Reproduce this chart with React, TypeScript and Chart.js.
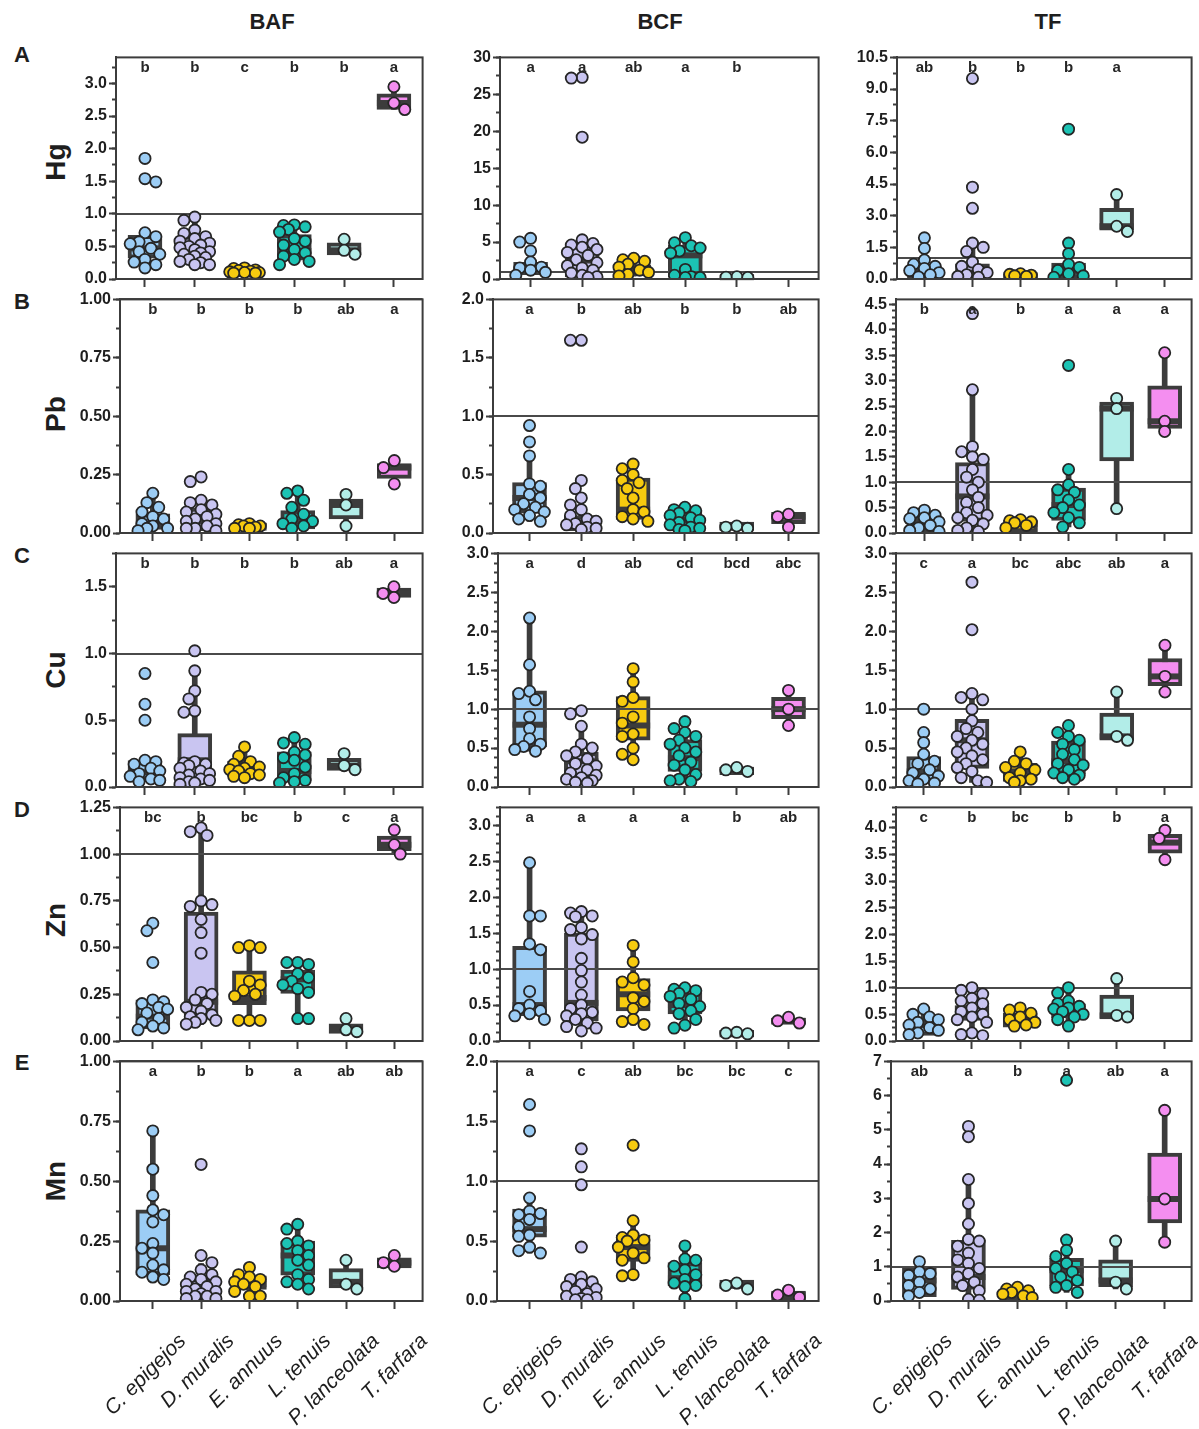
import React, { useEffect, useRef } from "react";
import { Chart, registerables } from "chart.js";

Chart.register(...registerables);

const FONT = "'Liberation Sans', Arial, Helvetica, sans-serif";
const DARK = "#3c3c3c";
const INK = "#262626";
Chart.defaults.font.family = FONT;

// ---------------- categories / labels ----------------
const species = ["C. epigejos", "D. muralis", "E. annuus", "L. tenuis", "P. lanceolata", "T. farfara"];
const speciesColors = ["#9ccdf5", "#c9c5f1", "#f7cb0f", "#1cc3b4", "#b2ede8", "#f48ef0"];
const factors = ["BAF", "BCF", "TF"];
const metals = ["Hg", "Pb", "Cu", "Zn", "Mn"];
const rowLetters = ["A", "B", "C", "D", "E"];

// y-axis ranges and tick spacing [row][col]
const yMaxes = [[3.4, 30, 10.5], [1.0, 2.0, 4.6], [1.75, 3.0, 3.0], [1.25, 3.25, 4.38], [1.0, 2.0, 7]];
const yMajorSteps = [[0.5, 5, 1.5], [0.25, 0.5, 0.5], [0.5, 0.5, 0.5], [0.25, 0.5, 0.5], [0.25, 0.5, 1]];
const yMinorSteps = [[0.25, 2.5, 0.75], [0.125, 0.25, 0.125], [0.25, 0.125, 0.125], [0.125, 0.125, 0.125], [0.125, 0.25, 0.5]];
const yDecimals = [[1, 0, 1], [2, 1, 1], [1, 1, 1], [2, 1, 1], [2, 1, 0]];

// ---------------- data: points per species, boxes [low, q1, median, q3, high] ----------------
// BAF
const bafHgPoints = [
  [1.85, 1.54, 1.49, 0.71, 0.65, 0.57, 0.54, 0.47, 0.42, 0.38, 0.30, 0.26, 0.22, 0.17],
  [0.95, 0.90, 0.75, 0.70, 0.65, 0.62, 0.58, 0.55, 0.52, 0.50, 0.48, 0.45, 0.42, 0.40, 0.38, 0.35, 0.33, 0.30, 0.27, 0.25, 0.22, 0.22],
  [0.17, 0.16, 0.14, 0.13, 0.12, 0.11, 0.10, 0.10, 0.09, 0.09],
  [0.83, 0.82, 0.80, 0.76, 0.72, 0.62, 0.58, 0.52, 0.45, 0.40, 0.35, 0.30, 0.27, 0.22],
  [0.61, 0.44, 0.38],
  [2.95, 2.70, 2.60],
];
const bafHgBoxes = [[0.17, 0.32, 0.47, 0.67, 0.71], [0.22, 0.32, 0.47, 0.66, 0.95], [0.09, 0.08, 0.12, 0.16, 0.17], [0.22, 0.29, 0.43, 0.68, 0.83], [0.38, 0.37, 0.44, 0.555, 0.61], [2.60, 2.60, 2.70, 2.84, 2.95]];
const bafHgLetters = ["b", "b", "c", "b", "b", "a"];

const bafPbPoints = [
  [0.17, 0.13, 0.11, 0.09, 0.07, 0.06, 0.04, 0.03, 0.02, 0.02, 0.01],
  [0.24, 0.22, 0.14, 0.13, 0.12, 0.10, 0.09, 0.08, 0.07, 0.06, 0.05, 0.04, 0.03, 0.02, 0.02, 0.01],
  [0.04, 0.035, 0.03, 0.03, 0.025, 0.02, 0.02],
  [0.18, 0.17, 0.14, 0.11, 0.08, 0.06, 0.05, 0.04, 0.03, 0.02],
  [0.165, 0.12, 0.03],
  [0.31, 0.28, 0.21],
];
const bafPbBoxes = [[0.01, 0.015, 0.04, 0.082, 0.17], [0.01, 0.014, 0.05, 0.107, 0.14], [0.02, 0.011, 0.03, 0.044, 0.04], [0.02, 0.017, 0.05, 0.096, 0.18], [0.03, 0.06, 0.12, 0.145, 0.165], [0.21, 0.234, 0.28, 0.297, 0.31]];
const bafPbLetters = ["b", "b", "b", "b", "ab", "a"];

const bafCuPoints = [
  [0.85, 0.62, 0.50, 0.20, 0.19, 0.17, 0.14, 0.12, 0.10, 0.08, 0.06, 0.05, 0.04],
  [1.02, 0.87, 0.72, 0.66, 0.57, 0.56, 0.19, 0.18, 0.17, 0.16, 0.14, 0.12, 0.10, 0.09, 0.07, 0.06, 0.05, 0.04, 0.03, 0.02],
  [0.30, 0.23, 0.19, 0.17, 0.15, 0.14, 0.13, 0.12, 0.10, 0.09, 0.08, 0.07],
  [0.37, 0.33, 0.32, 0.26, 0.24, 0.22, 0.20, 0.15, 0.10, 0.07, 0.05, 0.04, 0.03],
  [0.25, 0.16, 0.13],
  [1.50, 1.45, 1.42],
];
const bafCuBoxes = [[0.04, 0.049, 0.11, 0.197, 0.20], [0.02, 0.035, 0.20, 0.40, 0.87], [0.07, 0.079, 0.13, 0.195, 0.30], [0.03, 0.05, 0.12, 0.264, 0.37], [0.13, 0.124, 0.16, 0.215, 0.25], [1.42, 1.42, 1.45, 1.49, 1.50]];
const bafCuLetters = ["b", "b", "b", "b", "ab", "a"];

const bafZnPoints = [
  [0.63, 0.59, 0.42, 0.22, 0.21, 0.20, 0.18, 0.17, 0.15, 0.12, 0.10, 0.08, 0.07, 0.06],
  [1.14, 1.12, 1.10, 0.75, 0.73, 0.72, 0.65, 0.58, 0.47, 0.26, 0.25, 0.22, 0.20, 0.18, 0.16, 0.14, 0.13, 0.12, 0.11, 0.10, 0.09],
  [0.51, 0.50, 0.50, 0.32, 0.30, 0.27, 0.25, 0.24, 0.11, 0.11, 0.11],
  [0.42, 0.42, 0.41, 0.36, 0.34, 0.32, 0.30, 0.28, 0.26, 0.12, 0.12],
  [0.12, 0.06, 0.05],
  [1.13, 1.05, 1.00],
];
const bafZnBoxes = [[0.06, 0.065, 0.13, 0.22, 0.22], [0.09, 0.136, 0.21, 0.69, 1.14], [0.11, 0.194, 0.23, 0.375, 0.51], [0.12, 0.254, 0.33, 0.38, 0.42], [0.05, 0.04, 0.06, 0.092, 0.12], [1.00, 1.018, 1.05, 1.097, 1.13]];
const bafZnLetters = ["bc", "b", "bc", "b", "c", "a"];

const bafMnPoints = [
  [0.71, 0.55, 0.44, 0.38, 0.36, 0.33, 0.24, 0.22, 0.20, 0.15, 0.13, 0.12, 0.10, 0.09],
  [0.57, 0.19, 0.16, 0.13, 0.11, 0.10, 0.09, 0.08, 0.07, 0.06, 0.05, 0.04, 0.04, 0.03, 0.02, 0.02, 0.01, 0.01],
  [0.14, 0.11, 0.10, 0.09, 0.08, 0.07, 0.06, 0.04, 0.02, 0.02],
  [0.32, 0.30, 0.25, 0.24, 0.23, 0.21, 0.19, 0.17, 0.15, 0.11, 0.09, 0.08, 0.07, 0.05],
  [0.17, 0.07, 0.05],
  [0.19, 0.16, 0.145],
];
const bafMnBoxes = [[0.09, 0.11, 0.22, 0.38, 0.71], [0.01, 0.028, 0.05, 0.094, 0.156], [0.02, 0.048, 0.07, 0.105, 0.14], [0.05, 0.108, 0.19, 0.25, 0.32], [0.05, 0.055, 0.08, 0.135, 0.17], [0.145, 0.138, 0.16, 0.18, 0.19]];
const bafMnLetters = ["a", "b", "b", "a", "ab", "ab"];

// BCF
const bcfHgPoints = [
  [5.5, 5.0, 3.8, 2.3, 1.6, 1.5, 1.2, 0.9, 0.5],
  [27.3, 27.2, 19.2, 5.3, 4.8, 4.6, 4.3, 4.0, 3.6, 3.2, 2.6, 2.2, 1.8, 1.5, 1.2, 0.8, 0.5, 0.3, 0.2],
  [2.8, 2.6, 2.4, 2.0, 1.6, 1.2, 0.9, 0.6, 0.4],
  [5.6, 4.9, 4.5, 4.2, 3.8, 3.5, 1.3, 0.5, 0.3, 0.2, 0.2],
  [0.3, 0.25, 0.2],
  [],
];
const bcfHgBoxes = [[0.5, 0.58, 1.4, 2.27, 2.3], [0.2, 0.27, 2.5, 4.73, 5.3], [0.4, 0.45, 1.1, 1.92, 2.6], [0.2, 0.27, 3.2, 4.59, 5.6], [0.2, 0.12, 0.25, 0.48, 0.3], null];
const bcfHgLetters = ["a", "a", "ab", "a", "b", ""];

const bcfPbPoints = [
  [0.92, 0.78, 0.66, 0.42, 0.40, 0.33, 0.30, 0.25, 0.22, 0.20, 0.18, 0.15, 0.12, 0.10],
  [1.65, 1.65, 0.45, 0.38, 0.30, 0.24, 0.20, 0.15, 0.12, 0.10, 0.08, 0.07, 0.05, 0.04, 0.03],
  [0.59, 0.55, 0.50, 0.45, 0.43, 0.38, 0.30, 0.20, 0.18, 0.14, 0.12, 0.10],
  [0.22, 0.20, 0.19, 0.17, 0.15, 0.13, 0.11, 0.09, 0.07, 0.05, 0.04, 0.03, 0.02],
  [0.06, 0.05, 0.04],
  [0.16, 0.14, 0.05],
];
const bcfPbBoxes = [[0.10, 0.17, 0.30, 0.432, 0.645], [0.03, 0.02, 0.09, 0.15, 0.21], [0.10, 0.116, 0.20, 0.47, 0.57], [0.02, 0.02, 0.11, 0.19, 0.22], [0.04, 0.023, 0.05, 0.093, 0.06], [0.05, 0.08, 0.14, 0.178, 0.16]];
const bcfPbLetters = ["a", "b", "ab", "b", "b", "ab"];

const bcfCuPoints = [
  [2.17, 1.57, 1.23, 1.20, 1.12, 0.90, 0.75, 0.62, 0.55, 0.52, 0.48, 0.46],
  [0.98, 0.94, 0.78, 0.55, 0.50, 0.45, 0.40, 0.36, 0.30, 0.27, 0.22, 0.18, 0.15, 0.12, 0.10, 0.08, 0.06, 0.05],
  [1.52, 1.35, 1.15, 1.10, 0.90, 0.82, 0.68, 0.65, 0.50, 0.42, 0.35],
  [0.84, 0.75, 0.70, 0.65, 0.60, 0.55, 0.50, 0.45, 0.40, 0.32, 0.28, 0.22, 0.16, 0.10, 0.08, 0.07],
  [0.25, 0.22, 0.20],
  [1.24, 1.00, 0.79],
];
const bcfCuBoxes = [[0.46, 0.516, 0.80, 1.236, 2.17], [0.05, 0.114, 0.33, 0.444, 0.75], [0.35, 0.60, 0.79, 1.16, 1.52], [0.07, 0.20, 0.37, 0.61, 0.75], [0.20, 0.157, 0.22, 0.254, 0.25], [0.79, 0.876, 1.0, 1.15, 1.24]];
const bcfCuLetters = ["a", "d", "ab", "cd", "bcd", "abc"];

const bcfZnPoints = [
  [2.48, 1.74, 1.74, 1.35, 1.27, 0.69, 0.50, 0.45, 0.42, 0.38, 0.35, 0.30],
  [1.80, 1.78, 1.74, 1.73, 1.58, 1.55, 1.48, 1.42, 1.15, 0.98, 0.82, 0.64, 0.50, 0.45, 0.40, 0.38, 0.35, 0.30, 0.25, 0.20, 0.18, 0.14],
  [1.33, 1.10, 0.88, 0.82, 0.78, 0.60, 0.55, 0.45, 0.30, 0.27, 0.23],
  [0.74, 0.72, 0.70, 0.66, 0.62, 0.58, 0.52, 0.48, 0.42, 0.38, 0.30, 0.22, 0.18],
  [0.12, 0.11, 0.10],
  [0.33, 0.28, 0.25],
];
const bcfZnBoxes = [[0.30, 0.353, 0.50, 1.317, 2.48], [0.14, 0.284, 0.53, 1.50, 1.80], [0.22, 0.42, 0.65, 0.87, 1.33], [0.18, 0.376, 0.50, 0.675, 0.74], [0.10, 0.055, 0.11, 0.147, 0.12], [0.25, 0.23, 0.28, 0.32, 0.33]];
const bcfZnLetters = ["a", "a", "a", "a", "b", "ab"];

const bcfMnPoints = [
  [1.64, 1.42, 0.86, 0.75, 0.73, 0.72, 0.68, 0.62, 0.55, 0.54, 0.45, 0.42, 0.40],
  [1.27, 1.12, 0.97, 0.45, 0.20, 0.18, 0.16, 0.14, 0.12, 0.10, 0.08, 0.06, 0.04, 0.03, 0.02, 0.01, 0.01],
  [1.30, 0.67, 0.55, 0.53, 0.51, 0.50, 0.45, 0.40, 0.36, 0.34, 0.22, 0.21],
  [0.46, 0.35, 0.34, 0.29, 0.26, 0.22, 0.18, 0.15, 0.13, 0.12, 0.02],
  [0.15, 0.13, 0.10],
  [0.09, 0.05, 0.03],
];
const bcfMnBoxes = [[0.40, 0.532, 0.60, 0.767, 0.85], [0.01, 0.008, 0.06, 0.16, 0.20], [0.21, 0.33, 0.45, 0.55, 0.67], [0.02, 0.127, 0.19, 0.32, 0.46], [0.10, 0.105, 0.13, 0.174, 0.15], [0.03, 0.008, 0.05, 0.083, 0.09]];
const bcfMnLetters = ["a", "c", "ab", "bc", "bc", "c"];

// TF
const tfHgPoints = [
  [1.95, 1.45, 0.90, 0.70, 0.60, 0.50, 0.40, 0.30, 0.20, 0.10],
  [9.5, 4.35, 3.35, 1.70, 1.50, 1.30, 0.80, 0.60, 0.45, 0.30, 0.20, 0.12, 0.08],
  [0.25, 0.22, 0.18, 0.15, 0.12],
  [7.1, 1.70, 1.20, 0.70, 0.55, 0.40, 0.25, 0.15, 0.08],
  [4.0, 2.5, 2.25],
  [],
];
const tfHgBoxes = [[0.05, 0.05, 0.35, 0.62, 0.90], [0.08, 0.05, 0.30, 0.72, 1.50], [0.12, 0.05, 0.17, 0.23, 0.25], [0.08, 0.05, 0.35, 0.75, 1.20], [2.25, 2.31, 2.5, 3.35, 4.0], null];
const tfHgLetters = ["ab", "b", "b", "b", "a", ""];

const tfPbPoints = [
  [0.45, 0.40, 0.35, 0.30, 0.28, 0.22, 0.15, 0.10, 0.05, 0.03],
  [4.32, 2.82, 1.70, 1.60, 1.50, 1.45, 1.25, 1.10, 1.00, 0.85, 0.70, 0.60, 0.50, 0.40, 0.35, 0.30, 0.25, 0.18, 0.10, 0.05, 0.03],
  [0.26, 0.24, 0.22, 0.20, 0.15, 0.10],
  [3.3, 1.25, 0.95, 0.85, 0.80, 0.65, 0.55, 0.50, 0.40, 0.30, 0.20, 0.12],
  [2.65, 2.45, 0.48],
  [3.55, 2.20, 2.00],
];
const tfPbBoxes = [[0.03, 0.02, 0.20, 0.326, 0.45], [0.03, 0.228, 0.72, 1.387, 2.82], [0.10, 0.02, 0.18, 0.26, 0.26], [0.12, 0.247, 0.55, 0.885, 1.22], [0.48, 1.42, 2.45, 2.58, 2.65], [2.0, 2.06, 2.2, 2.9, 3.55]];
const tfPbLetters = ["b", "a", "b", "a", "a", "a"];

const tfCuPoints = [
  [1.00, 0.70, 0.57, 0.42, 0.33, 0.30, 0.22, 0.18, 0.14, 0.10, 0.08, 0.05, 0.04],
  [2.63, 2.02, 1.20, 1.15, 1.12, 1.00, 0.85, 0.75, 0.70, 0.65, 0.60, 0.55, 0.50, 0.45, 0.40, 0.35, 0.30, 0.25, 0.20, 0.12, 0.08, 0.06],
  [0.45, 0.33, 0.30, 0.25, 0.22, 0.18, 0.12, 0.10, 0.08, 0.06],
  [0.79, 0.70, 0.65, 0.60, 0.55, 0.48, 0.42, 0.35, 0.30, 0.28, 0.22, 0.18, 0.15, 0.12, 0.10],
  [1.22, 0.65, 0.60],
  [1.82, 1.42, 1.22],
];
const tfCuBoxes = [[0.04, 0.072, 0.20, 0.39, 0.70], [0.06, 0.24, 0.60, 0.87, 1.2], [0.06, 0.072, 0.20, 0.305, 0.45], [0.10, 0.165, 0.33, 0.59, 0.78], [0.60, 0.60, 0.65, 0.95, 1.22], [1.22, 1.30, 1.42, 1.65, 1.82]];
const tfCuLetters = ["c", "a", "bc", "abc", "ab", "a"];

const tfZnPoints = [
  [0.60, 0.50, 0.45, 0.40, 0.35, 0.30, 0.25, 0.20, 0.15, 0.12],
  [1.00, 0.95, 0.88, 0.80, 0.75, 0.70, 0.62, 0.55, 0.50, 0.45, 0.40, 0.35, 0.15, 0.12, 0.10],
  [0.62, 0.58, 0.52, 0.45, 0.40, 0.35, 0.30, 0.28],
  [1.00, 0.90, 0.75, 0.70, 0.65, 0.62, 0.60, 0.55, 0.50, 0.45, 0.40, 0.28],
  [1.17, 0.48, 0.45],
  [3.95, 3.80, 3.40],
];
const tfZnBoxes = [[0.12, 0.105, 0.30, 0.40, 0.60], [0.10, 0.385, 0.50, 0.665, 1.0], [0.28, 0.26, 0.45, 0.52, 0.62], [0.28, 0.435, 0.60, 0.695, 0.91], [0.45, 0.415, 0.48, 0.86, 1.17], [3.40, 3.52, 3.72, 3.875, 3.95]];
const tfZnLetters = ["c", "b", "bc", "b", "b", "a"];

const tfMnPoints = [
  [1.15, 0.85, 0.80, 0.75, 0.55, 0.45, 0.35, 0.25, 0.15],
  [5.1, 4.8, 3.55, 2.85, 2.25, 1.80, 1.75, 1.60, 1.40, 1.20, 1.10, 0.95, 0.80, 0.70, 0.55, 0.45, 0.30, 0.05, 0.02],
  [0.40, 0.35, 0.30, 0.25, 0.20, 0.15, 0.10],
  [6.45, 1.78, 1.48, 1.30, 1.10, 0.95, 0.85, 0.70, 0.60, 0.45, 0.40, 0.25],
  [1.75, 0.55, 0.35],
  [5.57, 2.98, 1.72],
];
const tfMnBoxes = [[0.15, 0.125, 0.60, 0.965, 1.15], [0.02, 0.34, 0.70, 1.77, 3.55], [0.10, 0.03, 0.22, 0.34, 0.40], [0.25, 0.44, 0.90, 1.25, 1.78], [0.35, 0.42, 0.60, 1.20, 1.75], [1.72, 2.28, 2.98, 4.32, 5.57]];
const tfMnLetters = ["ab", "a", "b", "a", "ab", "a"];

const panelData = [
  [
    { points: bafHgPoints, boxes: bafHgBoxes, letters: bafHgLetters },
    { points: bcfHgPoints, boxes: bcfHgBoxes, letters: bcfHgLetters },
    { points: tfHgPoints, boxes: tfHgBoxes, letters: tfHgLetters },
  ],
  [
    { points: bafPbPoints, boxes: bafPbBoxes, letters: bafPbLetters },
    { points: bcfPbPoints, boxes: bcfPbBoxes, letters: bcfPbLetters },
    { points: tfPbPoints, boxes: tfPbBoxes, letters: tfPbLetters },
  ],
  [
    { points: bafCuPoints, boxes: bafCuBoxes, letters: bafCuLetters },
    { points: bcfCuPoints, boxes: bcfCuBoxes, letters: bcfCuLetters },
    { points: tfCuPoints, boxes: tfCuBoxes, letters: tfCuLetters },
  ],
  [
    { points: bafZnPoints, boxes: bafZnBoxes, letters: bafZnLetters },
    { points: bcfZnPoints, boxes: bcfZnBoxes, letters: bcfZnLetters },
    { points: tfZnPoints, boxes: tfZnBoxes, letters: tfZnLetters },
  ],
  [
    { points: bafMnPoints, boxes: bafMnBoxes, letters: bafMnLetters },
    { points: bcfMnPoints, boxes: bcfMnBoxes, letters: bcfMnLetters },
    { points: tfMnPoints, boxes: tfMnBoxes, letters: tfMnLetters },
  ],
];

// ---------------- layout (pixels) ----------------
const ROW_TOP = [55, 297, 551, 805, 1059];
const ROW_BOTTOM = [279, 533, 787, 1041, 1301];
const PANEL_LEFT = [[116, 500, 897], [120, 493, 896], [116, 498, 896], [120, 500, 896], [120, 497, 891]];
const PANEL_RIGHT = [427, 823, 1198];
const CAT_X0 = [[145.4, 531, 925], [153.3, 530, 925], [145.4, 530, 924.3], [153.3, 530, 924.3], [153.3, 530, 920]];
const CAT_STEP = [[50.5, 52.3, 49.1], [49, 52.5, 49.1], [50.5, 52.5, 49.3], [49, 52.5, 49.3], [49, 52.5, 50.1]];
const YW = 56;
const PT = 5;
const BOX_W = 34;
const METAL_Y = [162, 414, 670, 920, 1181];
const LETTER_Y = [55, 302, 556, 810, 1063];
const TITLE_X = [272, 660, 1048];

function tickValues(max: number, step: number): number[] {
  const out: number[] = [];
  const n = Math.floor(max / step + 1e-6);
  for (let k = 0; k <= n; k++) out.push(Math.round(k * step * 1e6) / 1e6);
  return out;
}

// beeswarm-style horizontal spread (layout only)
function swarmOffsets(values: number[], yMax: number, plotH: number, step: number): number[] {
  const R = 9.5;
  const cand = [0, 6, -6, 11, -11, 15, -15];
  const placed: { x: number; y: number }[] = [];
  return values.map((v, k) => {
    const py = (v / yMax) * plotH;
    const order = k % 2 === 0 ? cand : cand.map((c) => -c);
    let best = 0;
    let bestD = -1;
    for (const c of order) {
      let d = Infinity;
      for (const p of placed) d = Math.min(d, Math.hypot(p.x - c, p.y - py));
      if (d >= R) {
        best = c;
        bestD = d;
        break;
      }
      if (d > bestD) {
        bestD = d;
        best = c;
      }
    }
    placed.push({ x: best, y: py });
    return best / step;
  });
}

function geometry(row: number, col: number) {
  const left = PANEL_LEFT[row][col];
  const right = PANEL_RIGHT[col];
  const top = ROW_TOP[row];
  const bottom = ROW_BOTTOM[row];
  const xH = row === 4 ? 1429 - bottom : 10;
  const pr = col === 2 ? 1 : 3;
  return {
    left, right, top, bottom, xH, pr,
    cl: left - YW,
    ct: top - PT,
    cw: YW + (right - left) + pr,
    ch: PT + (bottom - top) + xH,
    plotH: bottom - top,
  };
}

function makeDecor(row: number, col: number) {
  const d = panelData[row][col];
  return {
    id: "decor" + row + col,
    afterDatasetDraw(chart: any, args: any) {
      if (args.index !== 1) return;
      const { ctx, chartArea } = chart;
      const xs = chart.scales.x;
      const ys = chart.scales.y;
      ctx.save();
      d.boxes.forEach((b: any, i: number) => {
        if (!b) return;
        const cx = xs.getPixelForValue(i);
        const y = ys.getPixelForValue(b[2]);
        ctx.fillStyle = DARK;
        ctx.fillRect(cx - BOX_W / 2, y - 3, BOX_W, 6);
      });
      if (ys.max >= 1) {
        const y = Math.round(ys.getPixelForValue(1));
        ctx.strokeStyle = "#4a4a4a";
        ctx.lineWidth = 2;
        ctx.beginPath();
        ctx.moveTo(chartArea.left, y);
        ctx.lineTo(chartArea.right, y);
        ctx.stroke();
      }
      ctx.restore();
    },
    afterDraw(chart: any) {
      const { ctx, chartArea } = chart;
      const xs = chart.scales.x;
      ctx.save();
      ctx.strokeStyle = DARK;
      ctx.lineWidth = 2;
      ctx.strokeRect(chartArea.left, chartArea.top, chartArea.right - chartArea.left, chartArea.bottom - chartArea.top);
      ctx.fillStyle = INK;
      ctx.font = `bold 15px ${FONT}`;
      ctx.textAlign = "center";
      ctx.textBaseline = "middle";
      d.letters.forEach((t: string, i: number) => {
        if (!t) return;
        ctx.fillText(t, xs.getPixelForValue(i), chartArea.top + 10);
      });
      ctx.restore();
    },
  };
}

function buildConfig(row: number, col: number, g: any): any {
  const d = panelData[row][col];
  const yMax = yMaxes[row][col];
  const step = CAT_STEP[row][col];
  const x0 = CAT_X0[row][col];
  const xMin = (g.left - x0) / step;
  const xMax = (g.right - x0) / step;
  const isBottom = row === 4;
  const majors = tickValues(yMax, yMajorSteps[row][col]);
  const minors = tickValues(yMax, yMinorSteps[row][col]);
  const dec = yDecimals[row][col];

  const boxIdx: number[] = [];
  d.boxes.forEach((b: any, i: number) => {
    if (b) boxIdx.push(i);
  });

  const whiskers = {
    type: "bar",
    data: boxIdx.map((i) => ({ x: i, y: [d.boxes[i]![0], d.boxes[i]![4]] })),
    backgroundColor: DARK,
    borderWidth: 0,
    barThickness: 5,
    grouped: false,
    order: 3,
  };
  const boxes = {
    type: "bar",
    data: boxIdx.map((i) => ({ x: i, y: [d.boxes[i]![1], d.boxes[i]![3]] })),
    backgroundColor: boxIdx.map((i) => speciesColors[i]),
    borderColor: DARK,
    borderWidth: 4,
    borderSkipped: false,
    barThickness: BOX_W,
    grouped: false,
    order: 2,
  };
  const points = d.points.map((vals: number[], i: number) => {
    const offs = swarmOffsets(vals, yMax, g.plotH, step);
    return {
      type: "scatter",
      data: vals.map((v, k) => ({ x: i + offs[k], y: v })),
      backgroundColor: speciesColors[i],
      borderColor: INK,
      borderWidth: 1.8,
      pointRadius: 5.6,
      pointHoverRadius: 5.6,
      order: 1,
    };
  });

  return {
    type: "bar",
    data: { datasets: [whiskers, boxes, ...points] },
    options: {
      responsive: false,
      animation: false,
      devicePixelRatio: 1,
      events: [],
      layout: { padding: { top: PT, right: g.pr, left: 0, bottom: 0 } },
      plugins: { legend: { display: false }, tooltip: { enabled: false }, title: { display: false } },
      scales: {
        x: {
          type: "linear",
          position: "bottom",
          min: xMin,
          max: xMax,
          offset: false,
          grid: { display: true, drawOnChartArea: false, drawTicks: true, tickLength: 8, tickWidth: 2, tickColor: DARK, offset: false },
          border: { display: true, width: 2, color: DARK },
          ticks: {
            display: isBottom,
            autoSkip: false,
            minRotation: 45,
            maxRotation: 45,
            padding: 20,
            labelOffset: 30,
            color: "#1e1e1e",
            font: { family: FONT, size: 21, style: "italic", weight: "normal" },
            callback: (v: any) => species[Math.round(Number(v))] ?? "",
          },
          afterBuildTicks: (s: any) => {
            s.ticks = species.map((_, i) => ({ value: i }));
          },
          afterFit: (s: any) => {
            s.height = g.xH;
            s.paddingLeft = 0;
            s.paddingRight = 0;
          },
        },
        y: {
          type: "linear",
          position: "left",
          weight: 1,
          min: 0,
          max: yMax,
          grid: { display: true, drawOnChartArea: false, drawTicks: true, tickLength: 7, tickWidth: 2, tickColor: DARK },
          border: { display: true, width: 2, color: DARK },
          ticks: {
            padding: 2,
            color: "#1e1e1e",
            font: { family: FONT, size: 16, weight: "bold" },
            callback: (v: any) => Number(v).toFixed(dec),
          },
          afterBuildTicks: (s: any) => {
            s.ticks = majors.map((v) => ({ value: v }));
          },
          afterFit: (s: any) => {
            s.width = YW;
            s.paddingTop = 0;
            s.paddingBottom = 0;
          },
        },
        ym: {
          type: "linear",
          position: "left",
          weight: 0,
          min: 0,
          max: yMax,
          grid: { display: true, drawOnChartArea: false, drawTicks: true, tickLength: 4, tickWidth: 2, tickColor: DARK },
          border: { display: false },
          ticks: { display: false },
          afterBuildTicks: (s: any) => {
            s.ticks = minors.map((v) => ({ value: v }));
          },
          afterFit: (s: any) => {
            s.width = 0;
            s.paddingTop = 0;
            s.paddingBottom = 0;
          },
        },
      },
    },
    plugins: [makeDecor(row, col)],
  };
}

function Panel({ row, col }: { row: number; col: number }) {
  const ref = useRef<HTMLCanvasElement>(null);
  const g = geometry(row, col);
  useEffect(() => {
    const canvas = ref.current;
    if (!canvas) return;
    const chart = new Chart(canvas, buildConfig(row, col, g));
    return () => chart.destroy();
  }, [row, col]);
  return (
    <canvas
      ref={ref}
      width={g.cw}
      height={g.ch}
      style={{ position: "absolute", left: g.cl, top: g.ct, width: g.cw, height: g.ch }}
    />
  );
}

export default function App() {
  const textBase: React.CSSProperties = {
    position: "absolute",
    fontFamily: FONT,
    fontWeight: "bold",
    color: "#1e1e1e",
    lineHeight: 1,
    whiteSpace: "nowrap",
  };
  return (
    <div style={{ position: "absolute", left: 0, top: 0, width: 1199, height: 1429, background: "#fff", overflow: "hidden" }}>
      {factors.map((f, c) => (
        <div key={f} style={{ ...textBase, left: TITLE_X[c], top: 22, fontSize: 22, transform: "translate(-50%, -50%)" }}>
          {f}
        </div>
      ))}
      {rowLetters.map((l, r) => (
        <div key={l} style={{ ...textBase, left: 22, top: LETTER_Y[r], fontSize: 22, transform: "translate(-50%, -50%)" }}>
          {l}
        </div>
      ))}
      {metals.map((m, r) => (
        <div key={m} style={{ ...textBase, left: 56, top: METAL_Y[r], fontSize: 28, transform: "translate(-50%, -50%) rotate(-90deg)" }}>
          {m}
        </div>
      ))}
      {metals.map((_, r) =>
        factors.map((_, c) => <Panel key={r + "-" + c} row={r} col={c} />)
      )}
    </div>
  );
}
